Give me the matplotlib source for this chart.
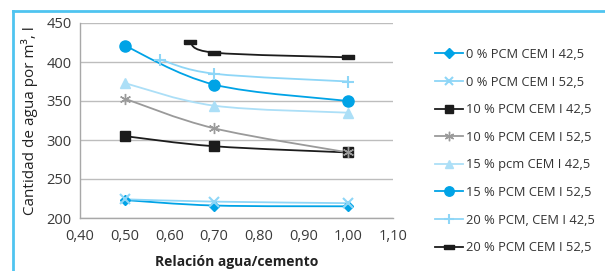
import matplotlib

matplotlib.use("Agg")
import matplotlib.pyplot as plt
from matplotlib.lines import Line2D
from matplotlib.patches import PathPatch
from matplotlib.path import Path

plt.rcParams["font.family"] = ["Open Sans", "DejaVu Sans"]

# series: (label, x values, y values)
labels = [
    "0 % PCM CEM I 42,5",
    "0 % PCM CEM I 52,5",
    "10 % PCM CEM I 42,5",
    "10 % PCM CEM I 52,5",
    "15 % pcm CEM I 42,5",
    "15 % PCM CEM I 52,5",
    "20 % PCM, CEM I 42,5",
    "20 % PCM CEM I 52,5",
]
x_0_425 = [0.50, 0.70, 1.00]
y_0_425 = [223, 216, 215]
x_0_525 = [0.50, 0.70, 1.00]
y_0_525 = [224, 221, 219]
x_10_425 = [0.50, 0.70, 1.00]
y_10_425 = [305, 292, 284]
x_10_525 = [0.50, 0.70, 1.00]
y_10_525 = [353, 315, 284]
x_15_425 = [0.50, 0.70, 1.00]
y_15_425 = [373, 344, 335]
x_15_525 = [0.50, 0.70, 1.00]
y_15_525 = [421, 371, 350]
x_20_425 = [0.58, 0.70, 1.00]
y_20_425 = [403, 385, 375]
x_20_525 = [0.645, 0.70, 1.00]
y_20_525 = [426, 412, 406]

x_ticks = [0.40, 0.50, 0.60, 0.70, 0.80, 0.90, 1.00, 1.10]
y_ticks = [200, 250, 300, 350, 400, 450]

BLUE = "#00a3e6"
LIGHT = "#8ed6f7"
PALE = "#acdff7"
BLACK = "#1c1c1c"
GRAY = "#9a9a9a"
FRAME = "#4fc4f0"

bar = [(-1, -0.38), (1, -0.38), (1, 0.38), (-1, 0.38), (-1, -0.38)]

styles = [
    dict(color=BLUE, marker="D", ms=5.5),
    dict(color=LIGHT, marker="x", ms=7, mew=1.5),
    dict(color=BLACK, marker="s", ms=7.5),
    dict(color=GRAY, marker=(6, 2, 0), ms=8, mew=1.0),
    dict(color=PALE, marker="^", ms=7.5),
    dict(color=BLUE, marker="o", ms=8),
    dict(color=LIGHT, marker="+", ms=8, mew=1.5),
    dict(color=BLACK, marker=bar, ms=8),
]
series = [
    (x_0_425, y_0_425), (x_0_525, y_0_525), (x_10_425, y_10_425),
    (x_10_525, y_10_525), (x_15_425, y_15_425), (x_15_525, y_15_525),
    (x_20_425, y_20_425), (x_20_525, y_20_525),
]


def smooth_path(xs, ys):
    """Excel-like smoothed line: cubic Bezier through the points."""
    pts = list(zip(xs, ys))
    verts = [pts[0]]
    codes = [Path.MOVETO]
    n = len(pts)
    for i in range(n - 1):
        p0 = pts[max(i - 1, 0)]
        p1 = pts[i]
        p2 = pts[i + 1]
        p3 = pts[min(i + 2, n - 1)]
        c1 = (p1[0] + (p2[0] - p0[0]) / 6, p1[1] + (p2[1] - p0[1]) / 6)
        c2 = (p2[0] - (p3[0] - p1[0]) / 6, p2[1] - (p3[1] - p1[1]) / 6)
        verts += [c1, c2, p2]
        codes += [Path.CURVE4] * 3
    return Path(verts, codes)


fig = plt.figure(figsize=(6.05, 2.71), dpi=100)
ax = fig.add_axes([80 / 605, 1 - 218 / 271, 313 / 605, 195 / 271])

handles = []
for label, (xs, ys), st in zip(labels, series, styles):
    ax.add_patch(PathPatch(smooth_path(xs, ys), fill=False,
                           edgecolor=st["color"], lw=1.3, zorder=3))
    ax.plot(xs, ys, ls="none", marker=st["marker"], ms=st["ms"],
            color=st["color"], mec=st["color"], mew=st.get("mew", 1.0),
            zorder=4)
    handles.append(Line2D([], [], color=st["color"], lw=1.3,
                          marker=st["marker"], ms=st["ms"] * 0.85,
                          mec=st["color"], mew=st.get("mew", 1.0),
                          label=label))

ax.set_xlim(0.40, 1.10)
ax.set_ylim(200, 450)
ax.set_xticks(x_ticks)
ax.set_xticklabels([f"{v:.2f}".replace(".", ",") for v in x_ticks])
ax.set_yticks(y_ticks)
ax.grid(True, axis="y", color="#bdbdbd", lw=1.0)
ax.set_axisbelow(True)
for side in ("top", "right"):
    ax.spines[side].set_visible(False)
for side in ("left", "bottom"):
    ax.spines[side].set_color("#a8a8a8")
    ax.spines[side].set_linewidth(1.0)
ax.tick_params(length=0, labelsize=10.5, colors="#3a3a3a", pad=6)
ax.tick_params(axis="x", pad=8)
ax.set_xlabel("Relación agua/cemento", fontsize=10, fontweight="bold",
              color="#222222", labelpad=8)
ax.set_ylabel("Cantidad de agua por m³, l", fontsize=11, color="#222222",
              labelpad=6)

fig.legend(handles=handles, loc="upper left",
           bbox_to_anchor=(435 / 605, 1 - 48 / 271),
           frameon=False, fontsize=9.3, handlelength=2.2, handletextpad=0.2,
           labelspacing=1.13, labelcolor="#333333", borderaxespad=0,
           borderpad=0)

# light-blue frame along top and left edges
fig.add_artist(Line2D([12.5 / 605, 1], [1 - 11 / 271] * 2, color=FRAME, lw=2,
                      transform=fig.transFigure))
fig.add_artist(Line2D([12.5 / 605] * 2, [0, 1 - 11 / 271], color=FRAME, lw=2,
                      transform=fig.transFigure))

fig.savefig("out.png", dpi=100)
